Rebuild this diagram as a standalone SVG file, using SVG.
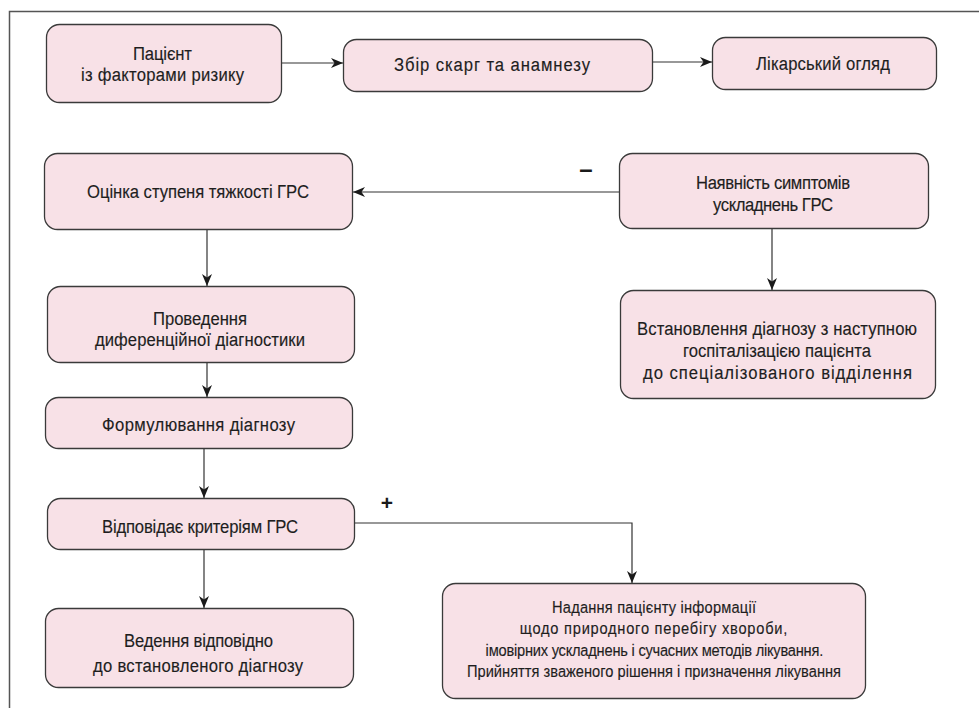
<svg xmlns="http://www.w3.org/2000/svg" width="979" height="708" viewBox="0 0 979 708">
<defs>
<marker id="ah" markerWidth="13" markerHeight="10" refX="12" refY="5" orient="auto" markerUnits="userSpaceOnUse">
<path d="M0,0 L12,5 L0,10 L3.5,5 z" fill="#1a1a1a"/>
</marker>
<style>
.box{fill:#f8e1e7;stroke:#3a3a3a;stroke-width:1.3}
.t{font-family:"Liberation Sans",Arial,sans-serif;font-size:19px;fill:#1e1e1e;stroke:#1e1e1e;stroke-width:0.15;text-anchor:middle}
.s{font-size:16.7px}
.c{fill:none;stroke:#333;stroke-width:1.2}
.lbl{font-family:"Liberation Sans",Arial,sans-serif;font-weight:bold;fill:#1a1a1a;text-anchor:middle}
.frame{fill:none;stroke:#555;stroke-width:1.5}
</style>
</defs>
<rect width="979" height="708" fill="#fff"/>
<path class="frame" d="M979,11.5 H9.5 V708"/>

<g id="connectors">
<line class="c" x1="281" y1="63" x2="343" y2="63" marker-end="url(#ah)"/>
<line class="c" x1="652" y1="62" x2="712" y2="62" marker-end="url(#ah)"/>
<line class="c" x1="619" y1="192" x2="353" y2="192" marker-end="url(#ah)"/>
<line class="c" x1="772" y1="228" x2="772" y2="290" marker-end="url(#ah)"/>
<line class="c" x1="207" y1="229" x2="207" y2="286" marker-end="url(#ah)"/>
<line class="c" x1="207" y1="344" x2="207" y2="397" marker-end="url(#ah)"/>
<line class="c" x1="204" y1="437" x2="204" y2="498" marker-end="url(#ah)"/>
<line class="c" x1="204" y1="549" x2="204" y2="608" marker-end="url(#ah)"/>
<path class="c" d="M354,523 H632 V583" marker-end="url(#ah)"/>
<text class="lbl" x="586" y="177" font-size="24">–</text>
<text class="lbl" x="387" y="510" font-size="21">+</text>
</g>

<g id="n1">
<rect class="box" x="46.5" y="24.5" width="235" height="78" rx="13"/>
<g transform="translate(162.5,0) scale(0.877,1)">
<text class="t" x="0" y="60" textLength="67.3" lengthAdjust="spacing">Пацієнт</text>
<text class="t" x="0" y="81.5" textLength="185.9" lengthAdjust="spacing">із факторами ризику</text>
</g>
</g>
<g id="n2">
<rect class="box" x="343.5" y="39.5" width="309" height="52" rx="13"/>
<g transform="translate(492,0) scale(0.877,1)">
<text class="t" x="0" y="71" textLength="223.5" lengthAdjust="spacing">Збір скарг та анамнезу</text>
</g>
</g>
<g id="n3">
<rect class="box" x="712.5" y="37.5" width="224" height="52" rx="13"/>
<g transform="translate(823,0) scale(0.877,1)">
<text class="t" x="0" y="70" textLength="152.8" lengthAdjust="spacing">Лікарський огляд</text>
</g>
</g>
<g id="n4">
<rect class="box" x="44.5" y="153.5" width="308" height="76" rx="13"/>
<g transform="translate(198,0) scale(0.877,1)">
<text class="t" x="0" y="198" textLength="253.1" lengthAdjust="spacing">Оцінка ступеня тяжкості ГРС</text>
</g>
</g>
<g id="n5">
<rect class="box" x="619.5" y="153.5" width="309" height="75" rx="13"/>
<g transform="translate(773,0) scale(0.877,1)">
<text class="t" x="0" y="189" textLength="175.6" lengthAdjust="spacing">Наявність симптомів</text>
<text class="t" x="0" y="211" textLength="136.8" lengthAdjust="spacing">ускладнень ГРС</text>
</g>
</g>
<g id="n6">
<rect class="box" x="620.5" y="290.5" width="315" height="108" rx="13"/>
<g transform="translate(777,0) scale(0.877,1)">
<text class="t" x="0" y="335" textLength="319.3" lengthAdjust="spacing">Встановлення діагнозу з наступною</text>
<text class="t" x="0" y="357" textLength="214.4" lengthAdjust="spacing">госпіталізацією пацієнта</text>
<text class="t" x="0.5" y="379" textLength="306.7" lengthAdjust="spacing">до спеціалізованого відділення</text>
</g>
</g>
<g id="n7">
<rect class="box" x="47.5" y="286.5" width="307" height="76" rx="13"/>
<g transform="translate(200,0) scale(0.877,1)">
<text class="t" x="0" y="325" textLength="107.2" lengthAdjust="spacing">Проведення</text>
<text class="t" x="0" y="346.5" textLength="239.5" lengthAdjust="spacing">диференційної діагностики</text>
</g>
</g>
<g id="n8">
<rect class="box" x="45.5" y="397.5" width="307" height="51" rx="13"/>
<g transform="translate(198.5,0) scale(0.877,1)">
<text class="t" x="0" y="431" textLength="220.1" lengthAdjust="spacing">Формулювання діагнозу</text>
</g>
</g>
<g id="n9">
<rect class="box" x="47.5" y="498.5" width="307" height="51" rx="13"/>
<g transform="translate(200,0) scale(0.877,1)">
<text class="t" x="0" y="533" textLength="223.5" lengthAdjust="spacing">Відповідає критеріям ГРС</text>
</g>
</g>
<g id="n10">
<rect class="box" x="45.5" y="608.5" width="308" height="79" rx="13"/>
<g transform="translate(198.5,0) scale(0.877,1)">
<text class="t" x="0" y="647" textLength="169.9" lengthAdjust="spacing">Ведення відповідно</text>
<text class="t" x="-0.5" y="672" textLength="239.5" lengthAdjust="spacing">до встановленого діагнозу</text>
</g>
</g>
<g id="n11">
<rect class="box" x="442.5" y="583.5" width="423" height="115" rx="13"/>
<g transform="translate(654,0) scale(0.877,1)">
<text class="t s" x="0" y="613" textLength="232.6" lengthAdjust="spacing">Надання пацієнту інформації</text>
<text class="t s" x="-0.5" y="634.5" textLength="305" lengthAdjust="spacing">щодо природного перебігу хвороби,</text>
<text class="t s" x="0.5" y="656" textLength="385" lengthAdjust="spacing">імовірних ускладнень і сучасних методів лікування.</text>
<text class="t s" x="0" y="677.5" textLength="426.5" lengthAdjust="spacing">Прийняття зваженого рішення і призначення лікування</text>
</g>
</g>
</svg>
